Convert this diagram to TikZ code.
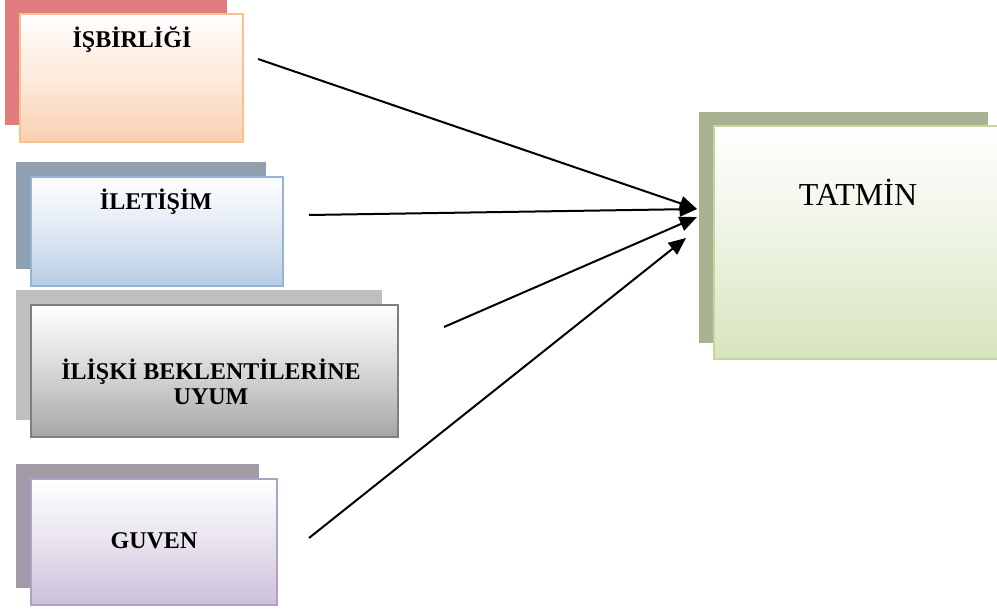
\documentclass[tikz,border=0pt]{standalone}
\usepackage{fontspec}
\setmainfont{Liberation Serif}
\usepackage{tikz}
\usetikzlibrary{arrows.meta}

\definecolor{kirmizi}{HTML}{E07B7E}
\definecolor{turuncu}{HTML}{FAC090}
\definecolor{seftali}{HTML}{FAD0B0}
\definecolor{grimavi}{HTML}{8FA0B0}
\definecolor{mavi}{HTML}{95B3D7}
\definecolor{acikmavi}{HTML}{B8CCE4}
\definecolor{acikgri}{HTML}{BFBFBF}
\definecolor{koyugri}{HTML}{7F7F7F}
\definecolor{gri}{HTML}{A6A6A6}
\definecolor{morgri}{HTML}{A29BA8}
\definecolor{mor}{HTML}{B2A1C7}
\definecolor{acikmor}{HTML}{CCC0DA}
\definecolor{yesilgri}{HTML}{A6B292}
\definecolor{yesil}{HTML}{C3D69B}
\definecolor{acikyesil}{HTML}{D7E4BD}

\tikzset{
  kutu/.style={line width=1.2pt, top color=white, bottom color=#1, middle color=white!55!#1},
  baslik/.style={font=\bfseries\fontsize{18}{19}\selectfont, align=center},
  ok/.style={line width=1.5pt, -{Triangle[length=13pt,width=11pt]}}
}

\begin{document}
\begin{tikzpicture}[x=0.75pt, y=-0.75pt]
            \useasboundingbox (0,0) rectangle (997,609);
            % ISBIRLIGI
            \fill [kirmizi] (5,0) rectangle (227,125); % golge
            \draw [kutu=seftali, draw=turuncu] (20,14) rectangle (243,142);
            \node [baslik] (isb) at (132,40) {İŞBİRLİĞİ};
            % ILETISIM
            \fill [grimavi] (16,162) rectangle (266,269); % golge
            \draw [kutu=acikmavi, draw=mavi] (31,177) rectangle (283,286);
            \node [baslik] (ilt) at (156,202) {İLETİŞİM};
            % ILISKI BEKLENTILERINE UYUM
            \fill [acikgri] (16,290) rectangle (382,420); % golge
            \draw [kutu=gri, draw=koyugri, line width=1.8pt] (31,305) rectangle (398,437);
            \node [baslik] (ilk) at (211,382) {İLİŞKİ BEKLENTİLERİNE\\UYUM};
            % GUVEN
            \fill [morgri] (16,464) rectangle (259,588); % golge
            \draw [kutu=acikmor, draw=mor] (31,479) rectangle (277,605);
            \node [baslik] (guv) at (154,541) {GUVEN};
            % TATMIN
            \fill [yesilgri] (699,112) rectangle (988,343); % golge
            \draw [kutu=acikyesil, draw=yesil] (714,126) rectangle (1002,359);
            \node [font=\fontsize{24}{26}\selectfont] (tat) at (858,192) {TATMİN};
            % oklar
            \coordinate (a1) at (258,59);
            \coordinate (a2) at (309,215);
            \coordinate (a3) at (444,327);
            \coordinate (a4) at (309,538);
            \coordinate (b1) at (697,209);
            \coordinate (b2) at (697,209);
            \coordinate (b3) at (697,217);
            \coordinate (b4) at (686,238);
            \draw [ok] (a1) -- (b1);
            \draw [ok] (a2) -- (b2);
            \draw [ok] (a3) -- (b3);
            \draw [ok] (a4) -- (b4);
        \end{tikzpicture}
\end{document}
